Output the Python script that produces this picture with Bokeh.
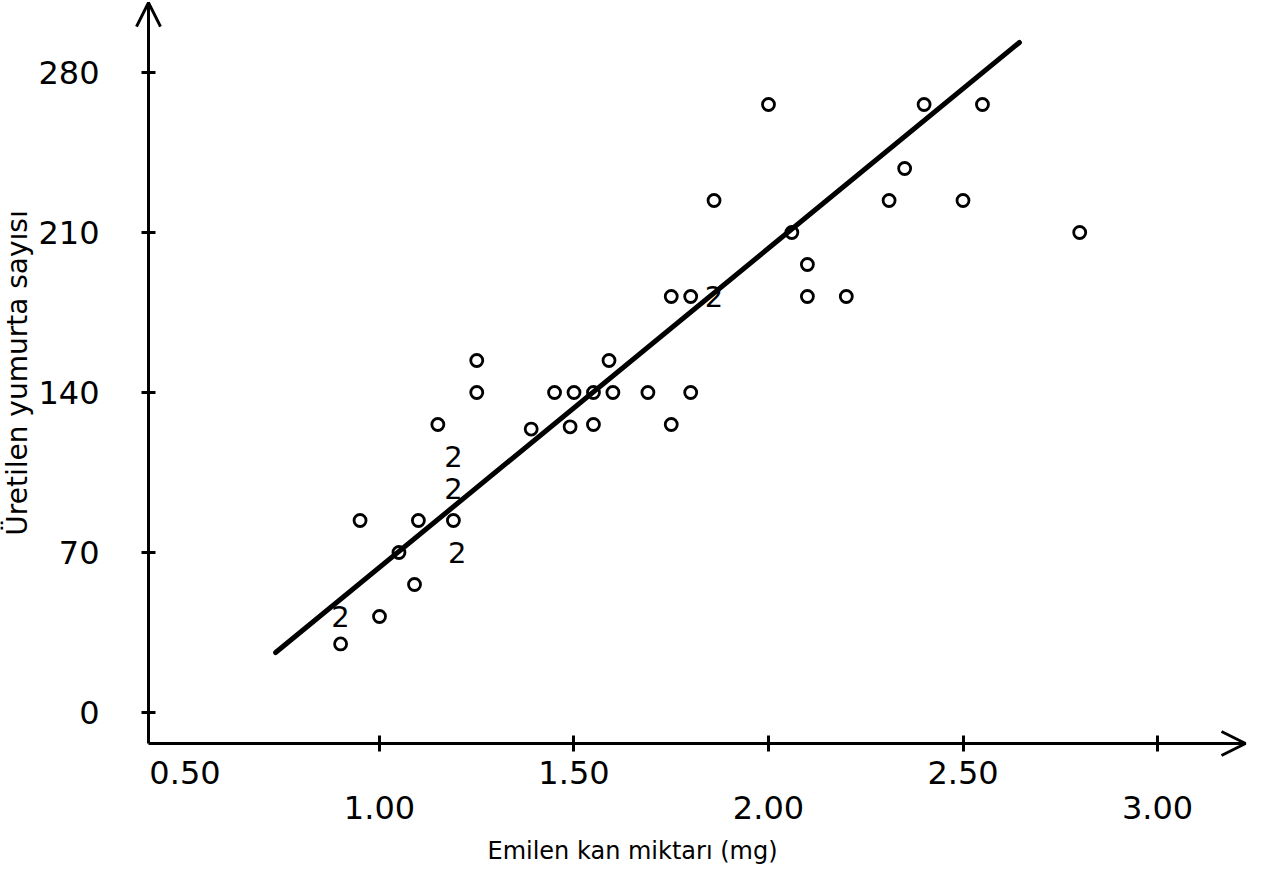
from bokeh.plotting import figure
from bokeh.models import (Range1d, FixedTicker, LinearAxis, Arrow, OpenHead, Label,
                          ColumnDataSource, NumeralTickFormatter)
from bokeh.core.properties import value
from bokeh.embed import file_html
from bokeh.resources import INLINE

# ---- data ----
blood_mg = [0.90, 0.95, 1.00, 1.05, 1.09, 1.10, 1.15, 1.19, 1.25, 1.25, 1.39, 1.45,
            1.49, 1.50, 1.55, 1.55, 1.59, 1.60, 1.69, 1.75, 1.75, 1.80, 1.80, 1.86,
            2.00, 2.06, 2.10, 2.10, 2.20, 2.31, 2.35, 2.40, 2.50, 2.55, 2.80]
eggs = [30, 84, 42, 70, 56, 84, 126, 84, 154, 140, 124, 140,
        125, 140, 140, 126, 154, 140, 140, 126, 182, 182, 140, 224,
        266, 210, 196, 182, 182, 224, 238, 266, 224, 266, 210]

# points that occur twice (marked "2")
pair_mg = [0.90, 1.19, 1.19, 1.20, 1.86]
pair_eggs = [42, 112, 98, 70, 182]
pair_label = ["2", "2", "2", "2", "2"]

# regression line  y = a + b x
reg_intercept = -76.1
reg_slope = 139.6
reg_x = [0.733, 2.645]
reg_y = [reg_intercept + reg_slope * v for v in reg_x]

x_upper_ticks = [0.5, 1.5, 2.5]
x_lower_ticks = [1.0, 2.0, 3.0]
x_tick_marks = [1.0, 1.5, 2.0, 2.5, 3.0]
y_ticks = [0, 70, 140, 210, 280]

FONT = "DejaVu Sans"
# whole canvas is the plotting frame; axes are placed at fixed data positions
X0, X1 = 0.02571, 3.26478
Y0, Y1 = -71.75, 311.5
X_AXIS_AT = 0.40617      # where the y axis stands
Y_AXIS_AT = -13.5625     # where the x axis lies
X_TIP = 3.2262
Y_TIP = 310.6

p = figure(width=1260, height=876, x_range=Range1d(X0, X1), y_range=Range1d(Y0, Y1),
           output_backend="svg", toolbar_location=None,
           min_border_left=0, min_border_right=0, min_border_top=0, min_border_bottom=0)
p.outline_line_color = None
p.grid.visible = False
p.background_fill_color = "white"
p.border_fill_color = "white"

# main x axis (upper row of labels; tick marks drawn as minor ticks)
xa = p.xaxis[0]
xa.fixed_location = Y_AXIS_AT
xa.bounds = (X_AXIS_AT, X_TIP)
xa.ticker = FixedTicker(ticks=x_upper_ticks, minor_ticks=x_tick_marks)
xa.formatter = NumeralTickFormatter(format="0.00")
xa.axis_line_width = 3
xa.axis_line_color = "black"
xa.major_tick_line_color = None
xa.minor_tick_line_width = 3
xa.minor_tick_line_color = "black"
xa.major_tick_in = 8
xa.major_tick_out = 8
xa.minor_tick_in = 8
xa.minor_tick_out = 8
xa.major_label_standoff = 9
xa.major_label_text_font = FONT
xa.major_label_text_font_size = "32px"
xa.major_label_text_color = "black"

# second row of x labels
xb = LinearAxis(ticker=FixedTicker(ticks=x_lower_ticks, minor_ticks=[]),
                formatter=NumeralTickFormatter(format="0.00"))
xb.fixed_location = Y_AXIS_AT
xb.bounds = (X_AXIS_AT, X_TIP)
xb.axis_line_color = None
xb.major_tick_line_color = None
xb.minor_tick_line_color = None
xb.major_tick_in = 0
xb.major_tick_out = 0
xb.major_label_standoff = 52
xb.major_label_text_font = FONT
xb.major_label_text_font_size = "32px"
xb.major_label_text_color = "black"
p.add_layout(xb, "below")

# y axis
ya = p.yaxis[0]
ya.fixed_location = X_AXIS_AT
ya.bounds = (Y_AXIS_AT, Y_TIP)
ya.ticker = FixedTicker(ticks=y_ticks, minor_ticks=[])
ya.axis_line_width = 3
ya.axis_line_color = "black"
ya.major_tick_line_width = 3
ya.major_tick_line_color = "black"
ya.major_tick_in = 7
ya.major_tick_out = 7
ya.major_label_standoff = 42
ya.major_label_text_font = FONT
ya.major_label_text_font_size = "32px"
ya.major_label_text_color = "black"
ya.axis_label = "Üretilen yumurta sayısı"
ya.axis_label_text_font = FONT
ya.axis_label_text_font_size = "28px"
ya.axis_label_text_font_style = "normal"
ya.axis_label_text_color = "black"
ya.axis_label_standoff = 1

# arrow heads at the axis ends
p.add_layout(Arrow(end=OpenHead(size=24, line_width=3, line_color="black"),
                   x_start=X_AXIS_AT, y_start=Y_TIP - 20, x_end=X_AXIS_AT, y_end=Y_TIP,
                   line_alpha=0))
p.add_layout(Arrow(end=OpenHead(size=24, line_width=3, line_color="black"),
                   x_start=X_TIP - 0.05, y_start=Y_AXIS_AT, x_end=X_TIP, y_end=Y_AXIS_AT,
                   line_alpha=0))

# x axis title
p.add_layout(Label(x=1.6504, y=-60.8, text="Emilen kan miktarı (mg)", text_align="center",
                   text_baseline="alphabetic", text_font=FONT, text_font_size="24px",
                   text_color="black"))

# regression line
p.line(reg_x, reg_y, line_width=5, line_color="black", line_cap="round")

# data points
src = ColumnDataSource(dict(x=blood_mg, y=eggs))
p.scatter("x", "y", source=src, marker="circle", size=12, fill_color=None,
          line_color="black", line_width=2.8)

psrc = ColumnDataSource(dict(x=pair_mg, y=pair_eggs, t=pair_label))
p.text("x", "y", text="t", source=psrc, text_align="center", text_baseline="middle",
       text_font=value(FONT), text_font_size="29px", text_color="black")

open("out.html", "w").write(file_html(p, INLINE))
